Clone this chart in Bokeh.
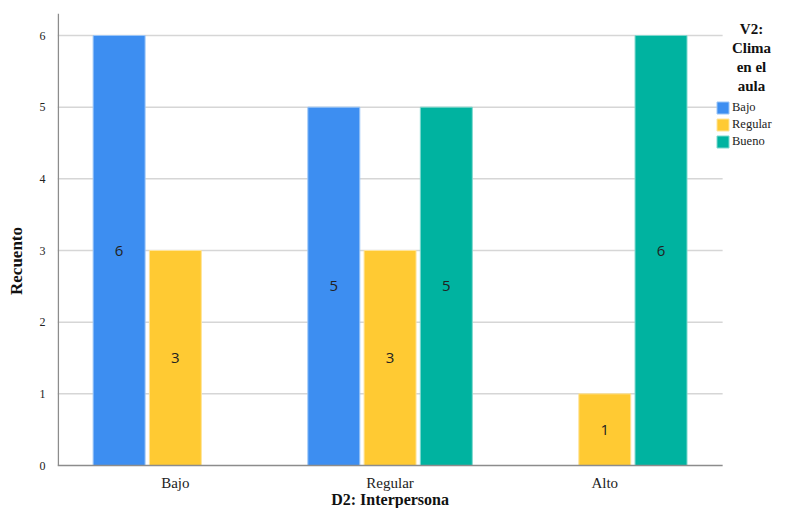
from bokeh.plotting import figure
from bokeh.models import ColumnDataSource, FixedTicker, Legend, LegendItem, Label, Range1d
from bokeh.core.properties import value
from bokeh.embed import file_html
from bokeh.resources import INLINE

categories = ["Bajo", "Regular", "Alto"]
series = ["Bajo", "Regular", "Bueno"]
colors = ["#3D8EF1", "#FFCA33", "#00B3A0"]
line_colors = ["#9CC6F7", "#FFE49A", "#7FD8CE"]
bajo_vals = [6, 5, 0]
regular_vals = [3, 3, 1]
bueno_vals = [0, 5, 6]
y_ticks = [0, 1, 2, 3, 4, 5, 6]
legend_title_lines = ["V2:", "Clima", "en el", "aula"]
x_title = "D2: Interpersona"
y_title = "Recuento"

values = [bajo_vals, regular_vals, bueno_vals]
offsets = [-0.262, 0.0, 0.262]
bar_w = 0.242
x_start, x_end_grid = -0.549, 2.549
px_per_x = 214.7
W, H = 773, 508
left_b, top_b, zero_px = 57, 13, 465
y_top = 6.307
px_per_y = (zero_px - top_b) / y_top
y_bottom = -(H - zero_px) / px_per_y
x_end = x_start + (W - left_b) / px_per_x
tick_label_y = -(482 - zero_px) / px_per_y
x_title_y = -(499 - zero_px) / px_per_y

p = figure(width=W, height=H, output_backend="svg", toolbar_location=None,
           x_range=Range1d(x_start, x_end), y_range=Range1d(y_bottom, y_top),
           min_border_left=left_b, min_border_right=0, min_border_top=top_b,
           min_border_bottom=0)
p.outline_line_color = None
p.xgrid.grid_line_color = None
p.ygrid.grid_line_color = None
p.xaxis.visible = False

# gridlines restricted to plotting area
p.segment(x0=[x_start] * 6, x1=[x_end_grid] * 6, y0=y_ticks[1:], y1=y_ticks[1:],
          line_color="#D6D6D6", line_width=1.5)

renderers = []
for i, (name, vals) in enumerate(zip(series, values)):
    xs, tops, labs, mids = [], [], [], []
    for j, v in enumerate(vals):
        if v > 0:
            xs.append(j + offsets[i])
            tops.append(v)
            labs.append(str(v))
            mids.append(v / 2)
    src = ColumnDataSource(dict(x=xs, top=tops, lab=labs, mid=mids))
    r = p.vbar(x="x", top="top", width=bar_w, source=src, fill_color=colors[i],
               line_color=line_colors[i], line_width=1)
    p.text(x="x", y="mid", text="lab", source=src, text_align="center", text_baseline="middle",
           text_font=value("Open Sans"), text_font_size="15px", text_color="#222222")
    renderers.append((name, r))

# axes lines (x baseline at 0, y axis from 0 to top)
p.segment(x0=[x_start], x1=[x_end_grid], y0=[0], y1=[0], line_color="#8C8C8C", line_width=1.5)
ax_x = x_start + 0.8 / px_per_x
p.segment(x0=[ax_x], x1=[ax_x], y0=[0], y1=[y_top], line_color="#8C8C8C", line_width=1.5)

# category labels and x axis title
p.text(x=[0, 1, 2], y=[tick_label_y] * 3, text=categories, text_align="center",
       text_baseline="middle", text_font=value("Liberation Serif"), text_font_size="15px",
       text_color="#222222")
p.text(x=[(x_start + x_end_grid) / 2], y=[x_title_y], text=[x_title], text_align="center",
       text_baseline="middle", text_font=value("Liberation Serif"), text_font_style="bold",
       text_font_size="16px", text_color="#111111")

p.yaxis.ticker = FixedTicker(ticks=y_ticks)
p.yaxis.axis_line_color = None
p.yaxis.major_tick_line_color = None
p.yaxis.minor_tick_line_color = None
p.yaxis.major_label_standoff = 6
p.yaxis.major_label_text_font = "Liberation Serif"
p.yaxis.major_label_text_font_size = "12px"
p.yaxis.major_label_text_color = "#222222"
p.yaxis.axis_label = y_title
p.yaxis.axis_label_text_font = "Liberation Serif"
p.yaxis.axis_label_text_font_style = "bold"
p.yaxis.axis_label_text_font_size = "17px"
p.yaxis.axis_label_text_color = "#111111"
p.yaxis.axis_label_standoff = 11

# legend title
title_y = [28, 47, 66, 85]
for line, yc in zip(legend_title_lines, title_y):
    p.add_layout(Label(x=751 - left_b, y=H - yc, x_units="screen", y_units="screen",
                       text=line, text_align="center", text_baseline="middle",
                       text_font="Liberation Serif", text_font_style="bold", text_font_size="15px",
                       text_color="#111111"))

legend = Legend(items=[LegendItem(label=n, renderers=[r]) for n, r in renderers],
                location=(715 - left_b, H - 149), padding=0, margin=0, spacing=2,
                glyph_width=15, glyph_height=15, label_height=15, label_standoff=2,
                label_text_font="Liberation Serif", label_text_font_size="12.5px",
                label_text_color="#222222", border_line_color=None, background_fill_alpha=0)
p.add_layout(legend, "center")

open("out.html", "w").write(file_html(p, INLINE))
